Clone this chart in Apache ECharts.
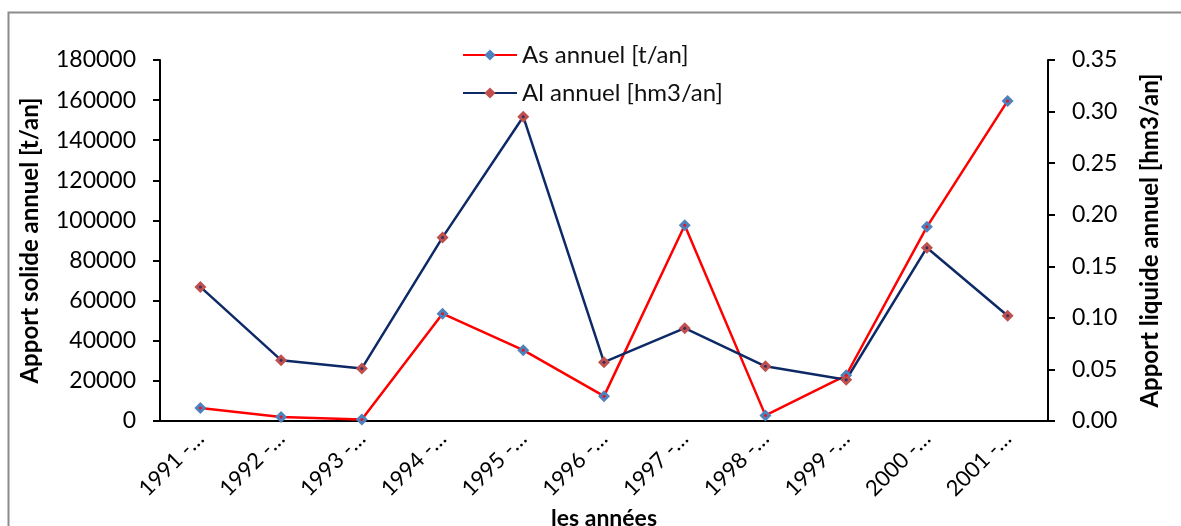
<!DOCTYPE html>
<html>
<head>
<meta charset="utf-8">
<script src="https://cdn.jsdelivr.net/npm/echarts@6/dist/echarts.min.js"></script>
<style>
html,body{margin:0;padding:0;background:#fff;}
#c{width:1181px;height:526px;}
</style>
</head>
<body>
<div id="c"></div>
<script>
const categories = ['1991 -…','1992 -…','1993 -…','1994 -…','1995 -…','1996 -…','1997 -…','1998 -…','1999 -…','2000 -…','2001 -…'];
const asAnnuel = [6500, 2000, 800, 53500, 35300, 12400, 97600, 2800, 22800, 96800, 159600];
const alAnnuel = [0.130, 0.059, 0.051, 0.178, 0.295, 0.057, 0.090, 0.053, 0.040, 0.168, 0.102];
const seriesNames = ['As annuel [t/an]', 'Al annuel [hm3/an]'];

const FONT = 'Lato';
const chart = echarts.init(document.getElementById('c'));
chart.setOption({
  animation: false,
  backgroundColor: '#fff',
  textStyle: {fontFamily: FONT},
  graphic: [{
    type: 'rect', left: 6, top: 10, z: -1,
    shape: {width: 1300, height: 700},
    style: {fill: 'none', stroke: '#8c8c8c', lineWidth: 2}
  }],
  grid: {left: 160, right: 133, top: 60, bottom: 105, containLabel: false, outerBoundsMode: 'none'},
  legend: {
    orient: 'vertical', left: 457, top: 38, itemWidth: 54, itemHeight: 14, itemGap: 14,
    textStyle: {fontFamily: FONT, fontSize: 24, color: '#111'},
    data: seriesNames
  },
  xAxis: {
    type: 'category', data: categories, boundaryGap: true,
    name: 'les années', nameLocation: 'middle', nameGap: 79,
    nameTextStyle: {fontFamily: FONT, fontSize: 23, fontWeight: 'bold', color: '#000'},
    axisLine: {lineStyle: {color: '#000', width: 2}},
    axisTick: {alignWithLabel: true, length: 7, lineStyle: {color: '#000', width: 2}},
    axisLabel: {rotate: 45, fontFamily: FONT, fontSize: 22, color: '#000', margin: 14},
    splitLine: {show: false}
  },
  yAxis: [{
    type: 'value', min: 0, max: 180000, interval: 20000, position: 'left',
    name: 'Apport solide annuel [t/an]', nameLocation: 'middle', nameGap: 118, nameRotate: 90,
    nameTextStyle: {fontFamily: FONT, fontSize: 24, fontWeight: 'bold', color: '#000'},
    axisLine: {show: true, lineStyle: {color: '#000', width: 2}},
    axisTick: {show: true, length: 7, inside: false, lineStyle: {color: '#000', width: 2}},
    axisLabel: {fontFamily: FONT, fontSize: 23, color: '#000', margin: 24,
      formatter: v => String(v)},
    splitLine: {show: false}
  }, {
    type: 'value', min: 0, max: 0.35, interval: 0.05, position: 'right',
    name: 'Apport liquide annuel [hm3/an]', nameLocation: 'middle', nameGap: 90, nameRotate: 90,
    nameTextStyle: {fontFamily: FONT, fontSize: 24, fontWeight: 'bold', color: '#000'},
    axisLine: {show: true, lineStyle: {color: '#000', width: 2}},
    axisTick: {show: true, length: 7, lineStyle: {color: '#000', width: 2}},
    axisLabel: {fontFamily: FONT, fontSize: 23, color: '#000', margin: 24,
      formatter: v => v.toFixed(2)},
    splitLine: {show: false}
  }],
  series: [{
    name: seriesNames[0], type: 'line', yAxisIndex: 0, data: asAnnuel,
    symbol: 'diamond', symbolSize: 12,
    lineStyle: {color: '#ff0000', width: 2.5},
    itemStyle: {color: '#4f81bd'}
  }, {
    name: seriesNames[1], type: 'line', yAxisIndex: 1, data: alAnnuel,
    symbol: 'diamond', symbolSize: 12,
    lineStyle: {color: '#0e2a66', width: 2.5},
    itemStyle: {color: '#c0504d'}
  }, {
    type: 'scatter', yAxisIndex: 0, data: asAnnuel, symbol: 'circle', symbolSize: 3,
    itemStyle: {color: '#ff0000'}, silent: true, z: 5
  }, {
    type: 'scatter', yAxisIndex: 1, data: alAnnuel, symbol: 'circle', symbolSize: 3,
    itemStyle: {color: '#0e2a66'}, silent: true, z: 5
  }]
});
</script>
</body>
</html>
